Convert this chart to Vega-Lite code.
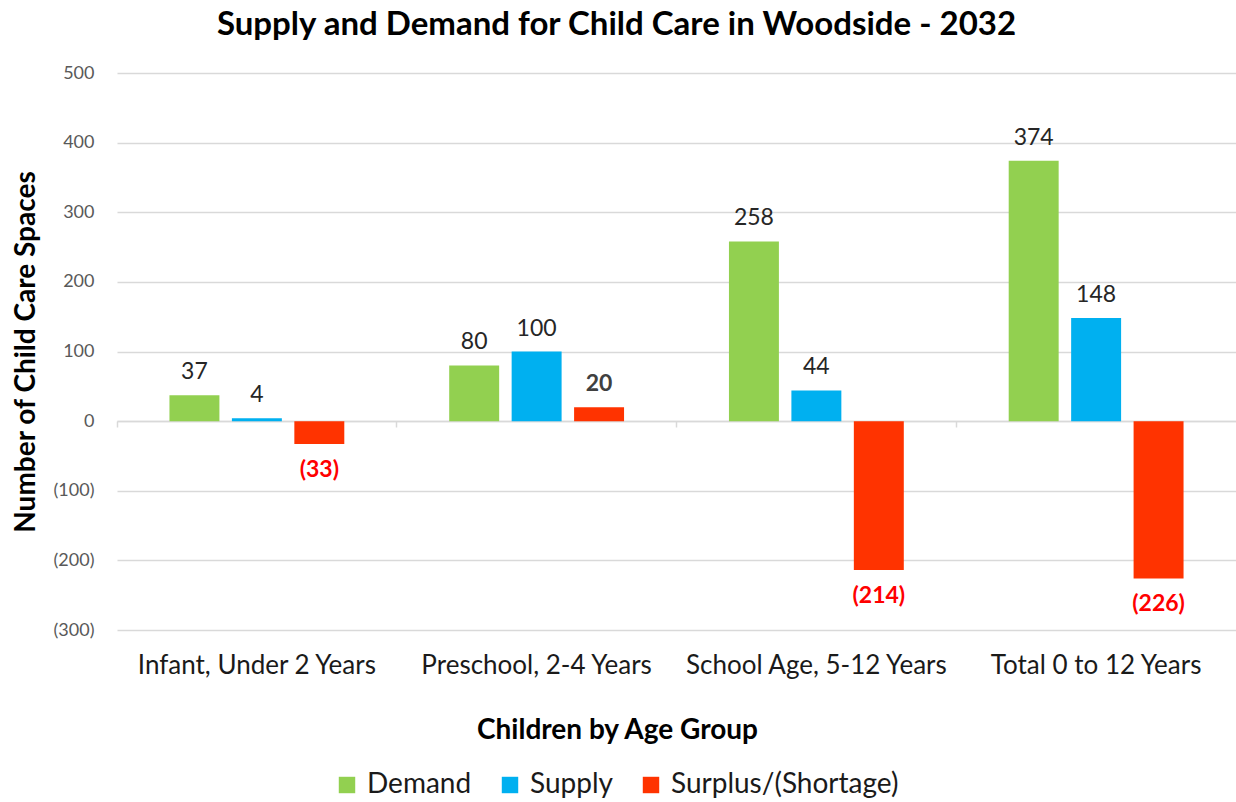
{
  "$schema": "https://vega.github.io/schema/vega-lite/v6.json",
  "width": 1119,
  "height": 557,
  "autosize": {"type": "none"},
  "padding": {"left": 117, "top": 73, "right": 0, "bottom": 172},
  "background": "white",
  "title": {
    "text": "Supply and Demand for Child Care in Woodside - 2032",
    "font": "Lato",
    "fontSize": 33,
    "fontWeight": "bold",
    "color": "#000000",
    "anchor": "middle",
    "dx": -60,
    "offset": 22
  },
  "data": {
    "values": [
      {"group": "Infant, Under 2 Years", "series": "Demand", "value": 37, "label": "37"},
      {"group": "Infant, Under 2 Years", "series": "Supply", "value": 4, "label": "4"},
      {"group": "Infant, Under 2 Years", "series": "Surplus/(Shortage)", "value": -33, "label": "(33)"},
      {"group": "Preschool, 2-4 Years", "series": "Demand", "value": 80, "label": "80"},
      {"group": "Preschool, 2-4 Years", "series": "Supply", "value": 100, "label": "100"},
      {"group": "Preschool, 2-4 Years", "series": "Surplus/(Shortage)", "value": 20, "label": "20"},
      {"group": "School Age, 5-12 Years", "series": "Demand", "value": 258, "label": "258"},
      {"group": "School Age, 5-12 Years", "series": "Supply", "value": 44, "label": "44"},
      {"group": "School Age, 5-12 Years", "series": "Surplus/(Shortage)", "value": -214, "label": "(214)"},
      {"group": "Total 0 to 12 Years", "series": "Demand", "value": 374, "label": "374"},
      {"group": "Total 0 to 12 Years", "series": "Supply", "value": 148, "label": "148"},
      {"group": "Total 0 to 12 Years", "series": "Surplus/(Shortage)", "value": -226, "label": "(226)"}
    ]
  },
  "encoding": {
    "x": {
      "field": "group",
      "type": "nominal",
      "sort": null,
      "scale": {"paddingInner": 0, "paddingOuter": 0},
      "axis": {
        "title": "Children by Age Group",
        "titleFont": "Lato",
        "titleFontSize": 28,
        "titleFontWeight": "bold",
        "titleColor": "#000000",
        "titleX": 500,
        "titleAlign": "center",
        "titleY": 295,
        "titleBaseline": "top",
        "labelFont": "Lato",
        "labelFontSize": 26,
        "labelLimit": 400,
        "labelColor": "#1a1a1a",
        "labelAngle": 0,
        "labelPadding": 225,
        "offset": -209,
        "domain": true,
        "domainColor": "#D9D9D9",
        "domainWidth": 1.5,
        "ticks": true,
        "tickColor": "#D9D9D9",
        "tickSize": 6,
        "tickWidth": 1.5,
        "bandPosition": 0,
        "grid": false
      }
    },
    "xOffset": {
      "field": "series",
      "type": "nominal",
      "sort": ["Demand", "Supply", "Surplus/(Shortage)"],
      "scale": {"paddingInner": 0.2, "paddingOuter": 0.84}
    },
    "y": {
      "field": "value",
      "type": "quantitative",
      "scale": {"domain": [-300, 500], "nice": false, "zero": false},
      "axis": {
        "title": "Number of Child Care Spaces",
        "titleFont": "Lato",
        "titleFontSize": 28,
        "titleFontWeight": "bold",
        "titleColor": "#000000",
        "titlePadding": 13,
        "values": [-300, -200, -100, 0, 100, 200, 300, 400, 500],
        "labelExpr": "datum.value < 0 ? '(' + format(-datum.value, 'd') + ')' : format(datum.value, 'd')",
        "labelFont": "Lato",
        "labelFontSize": 18,
        "labelColor": "#595959",
        "labelPadding": 23,
        "domain": false,
        "ticks": false,
        "grid": true,
        "gridColor": "#D9D9D9",
        "gridWidth": 1.5
      }
    }
  },
  "layer": [
    {
      "mark": {"type": "bar"},
      "encoding": {
        "color": {
          "field": "series",
          "type": "nominal",
          "sort": ["Demand", "Supply", "Surplus/(Shortage)"],
          "scale": {"domain": ["Demand", "Supply", "Surplus/(Shortage)"], "range": ["#92D050", "#00B0F0", "#FF3300"]},
          "legend": {
            "title": null,
            "orient": "none",
            "direction": "horizontal",
            "legendX": 216,
            "legendY": 698,
            "symbolType": "square",
            "symbolSize": 270,
            "symbolStrokeWidth": 0,
            "labelFont": "Lato",
            "labelFontSize": 28,
            "labelLimit": 400,
            "labelColor": "#1a1a1a",
            "columnPadding": 24,
            "labelOffset": 6
          }
        }
      }
    },
    {
      "transform": [{"filter": "datum.series !== 'Surplus/(Shortage)'"}],
      "mark": {"type": "text", "baseline": "bottom", "dy": -11, "font": "Lato", "fontSize": 23, "color": "#262626"},
      "encoding": {"text": {"field": "label"}}
    },
    {
      "transform": [{"filter": "datum.series === 'Surplus/(Shortage)' && datum.value >= 0"}],
      "mark": {"type": "text", "baseline": "bottom", "dy": -11, "font": "Lato", "fontSize": 23, "fontWeight": "bold", "color": "#404040"},
      "encoding": {"text": {"field": "label"}}
    },
    {
      "transform": [{"filter": "datum.series === 'Surplus/(Shortage)' && datum.value < 0"}],
      "mark": {"type": "text", "baseline": "top", "dy": 15, "font": "Lato", "fontSize": 23, "fontWeight": "bold", "color": "#FF0000"},
      "encoding": {"text": {"field": "label"}}
    }
  ],
  "config": {"view": {"stroke": null}}
}
